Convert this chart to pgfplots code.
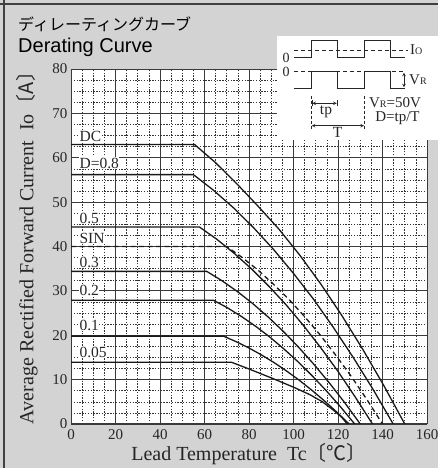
\documentclass[border=0pt]{standalone}
\usepackage{fontspec}
\usepackage{pgfplots}
\pgfplotsset{compat=1.18}
\setmainfont{Liberation Serif}
\newfontfamily\sansf{Liberation Sans}
\newfontfamily\cjk{Noto Sans CJK JP}
\definecolor{bg}{HTML}{D3D3D3}
\definecolor{gridc}{HTML}{3A3A3A}
\begin{document}
\begin{tikzpicture}[x=1pt,y=1pt]
\fill[bg] (0,0) rectangle (438,468);
\draw[line width=1.3pt, black!75] (0,464) -- (438,464);
\draw[line width=1.3pt, black!75] (4,0) -- (4,468);
\node[anchor=base west, font=\cjk\fontsize{16}{16}\selectfont, inner sep=0] at (18,437) {ディレーティングカーブ};
\node[anchor=base west, font=\sansf\fontsize{20}{20}\selectfont, inner sep=0] at (18,415) {Derating Curve};
\node[anchor=base, font=\fontsize{20}{20}\selectfont, inner sep=0, text=black!85] at (249,7.5) {Lead Temperature\hspace{0.5em}Tc{\cjk 〔℃〕}};
\node[rotate=90, font=\fontsize{20}{20}\selectfont, inner sep=0, text=black!85] at (27,225) {Average Rectified Forward Current\hspace{0.5em}Io{\cjk 〔A〕}};
\begin{axis}[
 at={(71pt,44pt)}, anchor=south west, scale only axis, width=356pt, height=355pt,
 xmin=0,xmax=160,ymin=0,ymax=80,
 xtick={0,20,...,160}, ytick={0,10,...,80},
 minor x tick num=3, minor y tick num=3,
 grid=both,
 major grid style={line width=0.8pt, gridc},
 minor grid style={line width=0.55pt, black!80, dash pattern=on 1.3pt off 1.5pt},
 major tick length=0pt, minor tick length=0pt,
 axis line style={line width=1pt, gridc},
 axis background/.style={fill=white},
 ticklabel style={font=\fontsize{15}{15}\selectfont, text=black!85},
 xticklabel style={yshift=-1.5pt},
 /pgf/number format/assume math mode=true,
 clip=true,
]
\addplot[line width=1.3pt, black!90] coordinates {(0,63) (55.5,63) (64.95,58.9) (74.4,54.2) (83.85,49.2) (93.3,44.0) (102.75,38.1) (112.2,31.6) (121.65,24.5) (131.1,16.85) (140.55,8.7) (150,0)};
\addplot[line width=1.3pt, black!90] coordinates {(0,56.2) (55,56.2) (63.98,52.7) (72.96,48.75) (81.94,44.3) (90.92,39.4) (99.9,34.0) (108.88,28.2) (117.86,21.8) (126.84,15.0) (135.82,7.75) (144.8,0)};
\addplot[line width=1.3pt, black!90] coordinates {(0,44.4) (57.7,44.4) (65.48,41.65) (73.26,38.5) (81.04,35.0) (88.82,31.1) (96.6,26.9) (104.38,22.25) (112.16,17.25) (119.94,11.9) (127.72,6.1) (135.5,0)};
\addplot[line width=1.3pt, black!90, dash pattern=on 5pt off 3.5pt] coordinates {(0,40) (70,40) (77,37.5) (84,34.7) (91,31.5) (98,28.05) (105,24.2) (112,20.05) (119,15.5) (126,10.7) (133,5.5) (140,0)};
\addplot[line width=1.3pt, black!90] coordinates {(0,34.4) (61,34.4) (67.9,32.27) (74.8,29.84) (81.7,27.13) (88.6,24.12) (95.5,20.83) (102.4,17.24) (109.3,13.37) (116.2,9.2) (123.1,4.75) (130,0)};
\addplot[line width=1.3pt, black!90] coordinates {(0,27.9) (64,27.9) (70.35,26.17) (76.7,24.2) (83.05,22.0) (89.4,19.57) (95.75,16.89) (102.1,13.99) (108.45,10.84) (114.8,7.46) (121.15,3.85) (127.5,0)};
\addplot[line width=1.3pt, black!90] coordinates {(0,19.8) (68.5,19.8) (74.15,18.57) (79.8,17.18) (85.45,15.61) (91.1,13.89) (96.75,11.99) (102.4,9.93) (108.05,7.69) (113.7,5.3) (119.35,2.73) (125,0)};
\addplot[line width=1.3pt, black!90] coordinates {(0,13.9) (72.2,13.9) (80,12.4) (90,10.4) (100,8.3) (107.4,6.6) (113,5.0) (118,3.1) (121.5,1.6) (124.2,0)};
\begin{scope}[every node/.style={anchor=west, fill=white, inner sep=0.4pt, font=\fontsize{15.5}{15.5}\selectfont, text=black!85}]
\node at (axis cs:3.6,64.7) {DC};
\node at (axis cs:3.6,58.8) {D=0.8};
\node at (axis cs:3.6,46.4) {0.5};
\node at (axis cs:3.6,41.9) {SIN};
\node at (axis cs:3.6,36.5) {0.3};
\node at (axis cs:3.6,30.0) {0.2};
\node at (axis cs:3.6,22.3) {0.1};
\node at (axis cs:3.6,16.2) {0.05};
\end{scope}
\end{axis}
% inset
\fill[white] (277,328) rectangle (438,432);
\begin{scope}[line width=1pt, black!85]
\draw (294,410.3) -| (311.7,427.3) -| (337.3,410.3) -| (364,427.3) -| (390.7,410.3) -- (405,410.3);
\draw[dash pattern=on 4pt off 3pt, line width=0.8pt] (294,418) -- (408,418);
\draw (294,379.7) -| (311.7,396.3) -| (337.3,379.7) -| (364,396.3) -| (390.7,379.7) -- (405,379.7);
\draw[dash pattern=on 4pt off 3pt, line width=0.8pt] (294,396.3) -- (405,396.3);
\draw[<->, >=stealth, line width=0.6pt] (404,395.3) -- (404,380.7);
\draw[dash pattern=on 3pt off 2pt, line width=0.6pt] (311.7,372) -- (311.7,339);
\draw[dash pattern=on 3pt off 2pt, line width=0.6pt] (364,372) -- (364,339);
\draw[|<->|, >=stealth, line width=0.6pt] (311.7,364.7) -- (337.3,364.7);
\draw[<->, >=stealth, line width=0.6pt] (311.7,342.3) -- (364,342.3);
\end{scope}
\begin{scope}[every node/.style={inner sep=0, text=black!85}]
\node[anchor=west, font=\fontsize{15}{15}\selectfont] at (410,418) {I{\fontsize{10}{10}\selectfont O}};
\node[font=\fontsize{14}{14}\selectfont] at (286,410) {0};
\node[font=\fontsize{14}{14}\selectfont] at (286,396) {0};
\node[anchor=west, font=\fontsize{15}{15}\selectfont] at (409,388) {V{\fontsize{10}{10}\selectfont R}};
\node[font=\fontsize{15}{15}\selectfont] at (395,365) {V{\fontsize{10}{10}\selectfont R}=50V};
\node[font=\fontsize{15}{15}\selectfont] at (397.5,349.5) {D=tp/T};
\node[font=\fontsize{15.5}{15.5}\selectfont] at (326,356) {tp};
\node[font=\fontsize{15.5}{15.5}\selectfont] at (337.5,335.5) {T};
\end{scope}
\pgfresetboundingbox
\path (0,0) rectangle (438,468);
\end{tikzpicture}
\end{document}
